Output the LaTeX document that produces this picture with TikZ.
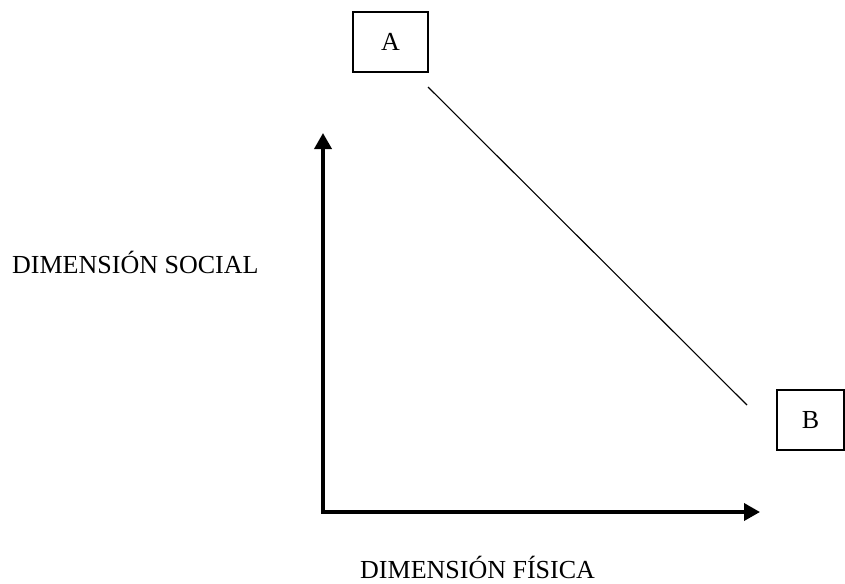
\documentclass[tikz,border=0pt]{standalone}
\usepackage{fontspec}
\setmainfont{Liberation Serif}
\usetikzlibrary{ positioning, arrows.meta }

\begin{document}
\begin{tikzpicture}[
  x=1pt, y=-1pt,
  box/.style={draw, line width=1.4pt, minimum width=75pt, minimum height=60pt,
              inner sep=0pt, font=\fontsize{26}{30}\selectfont},
  lbl/.style={inner sep=0pt, anchor=base west, font=\fontsize{26}{30}\selectfont},
  axis/.style={line width=3.6pt, line join=miter,
               {Triangle[length=16pt, width=17pt]}-{Triangle[length=16pt, width=17pt]}},
  diag/.style={line width=1.1pt},
]
  \useasboundingbox (0,0) rectangle (845,583);
  % boxes
  \node[box] (A) at (390.5,42) {A};
  \node[box, minimum width=67pt] (B) at (810.5,420) {B};
  % axes
  \coordinate (ytop) at (323,133);
  \coordinate (xend) at (760,512);
  \draw[axis] (ytop) |- (xend);
  % line between A and B
  \coordinate (la) at (428,87);
  \coordinate (lb) at (747,405);
  \draw[diag] (la) -- (lb);
  % axis labels
  \node[lbl] (social) at (12,273) {DIMENSIÓN SOCIAL};
  \node[lbl] (fisica) at (360,578) {DIMENSIÓN FÍSICA};
\end{tikzpicture}
\end{document}
